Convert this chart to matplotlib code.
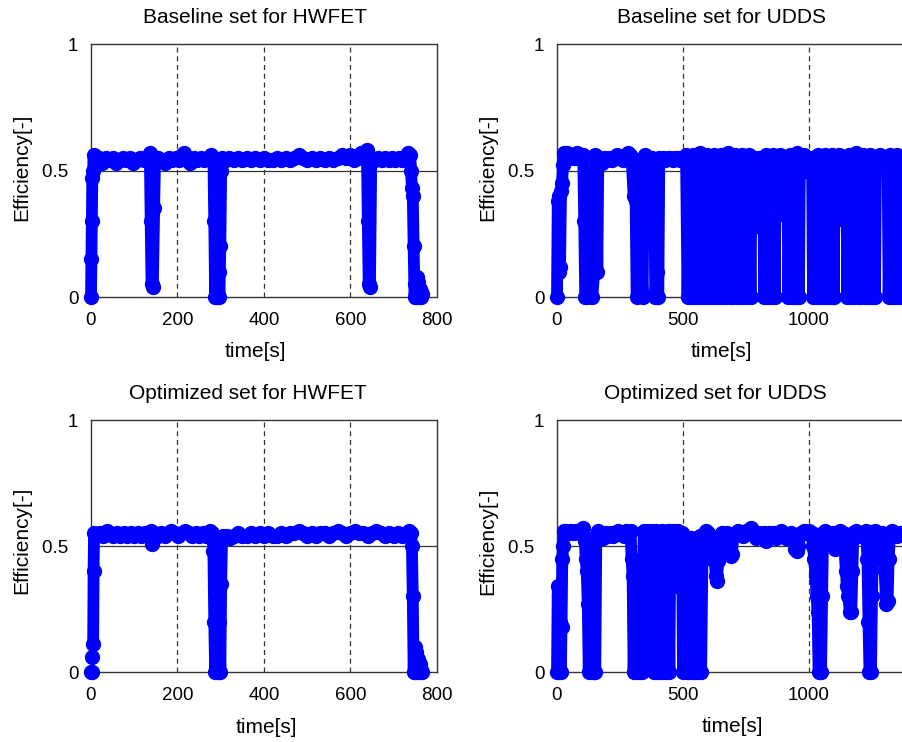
import numpy as np
import matplotlib.pyplot as plt

plt.rcParams['font.family'] = ['Liberation Sans', 'DejaVu Sans']

# HWFET, baseline set
hw_base_t = [0, 1, 2, 3, 5, 6, 10, 18, 26, 34, 42, 50, 58, 66, 74, 82, 90, 98, 106, 114,
             122, 130, 136, 138, 140, 143, 146, 148, 156, 164, 172, 180, 188, 196, 204, 210,
             216, 222, 230, 238, 246, 254, 262, 270, 278, 283, 285, 287, 289, 291, 293, 295,
             297, 299, 301, 303, 312, 320, 330, 340, 350, 360, 370, 380, 390, 400, 410, 420,
             430, 440, 450, 460, 470, 480, 490, 500, 510, 520, 530, 540, 550, 560, 570, 580,
             590, 600, 608, 616, 624, 630, 636, 638, 640, 642, 645, 648, 656, 664, 672, 680,
             688, 696, 704, 712, 720, 726, 732, 738, 740, 742, 744, 746, 748, 750, 752, 754,
             756, 758, 760, 762, 764, 766]
hw_base_eff = [0, 0.15, 0.3, 0.47, 0.5, 0.56, 0.54, 0.55, 0.53, 0.55, 0.54, 0.55, 0.53, 0.54,
               0.55, 0.54, 0.55, 0.53, 0.54, 0.55, 0.54, 0.55, 0.57, 0.3, 0.05, 0.04, 0.35,
               0.54, 0.55, 0.54, 0.53, 0.55, 0.54, 0.55, 0.54, 0.56, 0.57, 0.54, 0.53, 0.55,
               0.54, 0.55, 0.54, 0.55, 0.56, 0.55, 0.3, 0, 0.4, 0, 0.35, 0.1, 0, 0.2, 0.5,
               0.55, 0.54, 0.55, 0.54, 0.55, 0.54, 0.55, 0.54, 0.55, 0.54, 0.55, 0.54, 0.54,
               0.55, 0.54, 0.55, 0.54, 0.55, 0.56, 0.55, 0.54, 0.55, 0.54, 0.55, 0.54, 0.55,
               0.54, 0.55, 0.56, 0.55, 0.56, 0.54, 0.55, 0.57, 0.55, 0.56, 0.58, 0.3, 0.05,
               0.04, 0.55, 0.54, 0.55, 0.54, 0.55, 0.54, 0.55, 0.54, 0.55, 0.54, 0.55, 0.57,
               0.56, 0.5, 0.43, 0.4, 0.2, 0, 0.05, 0, 0.08, 0.06, 0, 0.03, 0, 0.02, 0.01]

# UDDS, baseline set
udds_base_t = [0, 3, 6, 9, 12, 16, 20, 24, 28, 32, 40, 50, 60, 70, 80, 90, 100, 104, 108, 112,
               120, 130, 140, 148, 152, 156, 160, 164, 170, 180, 190, 200, 210, 220,
               230, 240, 250, 260, 270, 280, 290, 296, 304, 312, 316, 324, 332, 340, 344,
               350, 360, 376, 386, 390, 396, 402, 406, 420, 430, 440, 450, 460, 470,
               480, 490, 500,
               512, 518, 525, 532, 539, 546, 553, 560, 567, 574, 581, 588, 595, 602, 609, 616,
               623, 630, 637, 644, 651, 658, 665, 672, 679, 686, 693, 700, 707, 714, 721, 728,
               735, 742, 749, 756, 763, 768,
               772, 778, 786, 794, 802, 810, 818, 822,
               829, 836, 843, 850, 857, 864,
               868, 876, 884, 892, 900, 908, 914, 918,
               925, 932, 939, 946, 953, 960,
               964, 972, 980, 988, 996, 1004, 1012, 1016,
               1023, 1030, 1037, 1044, 1051, 1058, 1065, 1072, 1079, 1086, 1093, 1098,
               1102, 1110, 1118, 1126, 1134, 1142, 1148, 1152,
               1159, 1166, 1173, 1180, 1187, 1194, 1201, 1208, 1215, 1222, 1229, 1236, 1243,
               1250, 1257, 1262,
               1266, 1274, 1282, 1290, 1298, 1306, 1312, 1316,
               1323, 1330, 1337, 1344, 1351, 1358, 1365, 1369]
udds_base_eff = [0, 0.38, 0.4, 0.1, 0.12, 0.42, 0.45, 0.52, 0.57, 0.56, 0.57, 0.55, 0.56, 0.55,
                 0.57, 0.55, 0.56, 0.56, 0.3, 0, 0, 0.02, 0, 0.1, 0.56, 0.55, 0.1, 0.55,
                 0.55, 0.53, 0.55, 0.54, 0.55, 0.54, 0.55, 0.56, 0.55, 0.54, 0.55, 0.57, 0.56,
                 0.55, 0.4, 0.38, 0, 0.1, 0.2, 0, 0.55,
                 0.56, 0.55, 0.55, 0.5, 0, 0.1, 0, 0.55, 0.55, 0.54, 0.55, 0.55, 0.54, 0.55,
                 0.55, 0.54, 0.55,
                 0.56, 0, 0.55, 0, 0.56, 0, 0.55, 0, 0.57, 0, 0.55, 0, 0.56, 0, 0.55, 0,
                 0.56, 0, 0.55, 0, 0.56, 0, 0.55, 0, 0.57, 0, 0.55, 0, 0.56, 0, 0.55, 0,
                 0.56, 0, 0.55, 0, 0.56, 0,
                 0.55, 0.28, 0.55, 0.28, 0.55, 0.28, 0.55, 0,
                 0.56, 0, 0.55, 0, 0.56, 0,
                 0.55, 0.33, 0.56, 0.33, 0.55, 0.33, 0.55, 0,
                 0.56, 0, 0.55, 0, 0.57, 0,
                 0.55, 0.5, 0.56, 0.5, 0.55, 0.5, 0.55, 0,
                 0.55, 0, 0.56, 0, 0.55, 0, 0.56, 0, 0.55, 0, 0.56, 0,
                 0.55, 0.31, 0.56, 0.31, 0.55, 0.31, 0.55, 0,
                 0.56, 0, 0.55, 0, 0.57, 0, 0.55, 0, 0.56, 0, 0.55, 0, 0.56,
                 0, 0.55, 0,
                 0.55, 0.52, 0.56, 0.52, 0.55, 0.52, 0.55, 0,
                 0.56, 0, 0.55, 0, 0.56, 0, 0.55, 0]

# HWFET, optimized set (first points are isolated dots)
hw_opt_t = [0, 3, np.nan, 3, np.nan, 5, 6, 7, 12, 20, 28, 36, 44, 52, 60, 68, 76, 84, 92, 100,
            108, 116, 124, 132, 138, 140, 142, 146, 154, 162, 170, 178, 186, 194, 202, 210,
            218, 226, 234, 242, 250, 258, 266, 274, 280, 283, 285, 287, 289, 291, 293, 295,
            297, 299, 301, 303, 306, 314, 322, 330, 340, 350, 360, 370, 380, 390, 400, 410,
            420, 430, 440, 450, 460, 470, 480, 490, 500, 510, 520, 530, 540, 550, 560, 570,
            580, 590, 600, 610, 620, 630, 640, 650, 660, 670, 680, 690, 700, 710, 720, 730,
            736, 740, 742, 744, 746, 748, 750, 752, 754, 756, 758, 760, 763, 766]
hw_opt_eff = [0, 0, np.nan, 0.06, np.nan, 0.11, 0.4, 0.55, 0.54, 0.55, 0.54, 0.56, 0.55, 0.54,
              0.55, 0.54, 0.55, 0.54, 0.55, 0.54, 0.55, 0.54, 0.55, 0.54, 0.56, 0.51, 0.52,
              0.55, 0.54, 0.55, 0.54, 0.55, 0.56, 0.55, 0.54, 0.55, 0.56, 0.55, 0.54, 0.55,
              0.54, 0.55, 0.54, 0.56, 0.55, 0.48, 0.2, 0, 0.3, 0, 0.4, 0, 0.2, 0, 0.35, 0.53,
              0.54, 0.54, 0.53, 0.54, 0.55, 0.54, 0.54, 0.55, 0.54, 0.55, 0.54, 0.55, 0.54,
              0.54, 0.55, 0.54, 0.55, 0.55, 0.56, 0.55, 0.54, 0.55, 0.54, 0.55, 0.55, 0.54,
              0.55, 0.56, 0.55, 0.54, 0.55, 0.56, 0.55, 0.55, 0.54, 0.55, 0.56, 0.55, 0.54,
              0.55, 0.54, 0.55, 0.54, 0.55, 0.56, 0.55, 0.5, 0.3, 0, 0.1, 0, 0.08, 0, 0.05,
              0, 0.03, 0.01, 0]

# UDDS, optimized set
udds_opt_t = [0, 3, 6, 9, 12, 15, 18, 21, 24, 28, 36, 46, 56, 66, 76, 86, 96, 104, 110, 114,
              118, 122, 126, 130, 134, 138, 142, 146, 152, 156, 164, 174, 184, 194, 204, 214,
              224, 234, 244, 254, 264, 274, 284, 292,
              296, 300, 304, 310, 316, 322, 328, 334, 338,
              344, 352, 360, 368, 376, 380, 386,
              392, 398, 404, 410, 416, 422, 428, 434, 440, 446,
              450, 458, 466, 474, 482, 490, 496, 500,
              506, 512, 518, 524, 530, 536, 542, 548, 554, 560, 566, 572,
              578, 586, 592, 600, 608, 616, 620,
              626, 630, 634, 640, 646, 656, 666, 676, 684, 690, 694, 700, 710, 720, 730, 740,
              750, 760, 770, 780, 790, 800, 810, 820, 830, 840, 850, 860, 870, 880, 890, 900,
              910, 920, 930, 940, 946, 952, 956, 962, 970, 980, 990, 1000, 1010, 1016, 1020,
              1026, 1030, 1034, 1038, 1044, 1048, 1052, 1056, 1064, 1074, 1084, 1094, 1100,
              1104, 1108, 1114, 1124, 1134, 1140, 1146, 1150, 1156, 1162, 1168, 1172, 1176,
              1186, 1196, 1206, 1216, 1226, 1232, 1236, 1240, 1246, 1250, 1254, 1262, 1272,
              1282, 1290, 1296, 1300, 1306, 1312, 1316, 1322, 1330, 1340, 1350, 1360, 1369]
udds_opt_eff = [0, 0.34, 0.3, 0, 0.2, 0, 0.18, 0.45, 0.5, 0.56, 0.56, 0.55, 0.56, 0.55, 0.56,
                0.55, 0.56, 0.57, 0.52, 0.45, 0.4, 0.27, 0, 0.3, 0.48, 0.2, 0, 0, 0, 0.54,
                0.56, 0.55, 0.53, 0.55, 0.54, 0.55, 0.54, 0.55, 0.56, 0.55, 0.54, 0.56, 0.55,
                0.56,
                0.45, 0.38, 0, 0.3, 0, 0.38, 0, 0.45, 0,
                0.56, 0.28, 0.56, 0.28, 0.56, 0.28, 0,
                0.56, 0, 0.55, 0, 0.56, 0, 0.55, 0, 0.56, 0,
                0.56, 0.34, 0.56, 0.34, 0.56, 0.34, 0.55, 0,
                0.53, 0, 0.52, 0, 0.53, 0, 0.52, 0, 0.53, 0, 0.54, 0,
                0.53, 0.55, 0.56, 0.55, 0.53, 0.45, 0.45,
                0.45, 0.38, 0.36, 0.44, 0.54, 0.55,
                0.54, 0.55, 0.5, 0.46, 0.47, 0.54, 0.55, 0.56, 0.55, 0.54, 0.56, 0.55, 0.57,
                0.55, 0.53, 0.55, 0.54, 0.55, 0.52, 0.55, 0.54, 0.55, 0.53, 0.54, 0.56, 0.55,
                0.53, 0.54, 0.55, 0.52, 0.49, 0.48, 0.5, 0.54, 0.55, 0.56, 0.55, 0.56, 0.55,
                0.5, 0.45, 0.38, 0.3, 0.24, 0, 0, 0, 0.3, 0.55, 0.56, 0.55, 0.54, 0.55, 0.52,
                0.49, 0.5, 0.55, 0.56, 0.55, 0.5, 0.4, 0.34, 0.3, 0.24, 0.24, 0.4, 0.55, 0.56,
                0.55, 0.54, 0.55, 0.56, 0.45, 0.2, 0, 0, 0.3, 0.55, 0.56, 0.55, 0.54, 0.55,
                0.5, 0.4, 0.27, 0.28, 0.45, 0.55, 0.56, 0.55, 0.54, 0.55, 0.55]

y_ticks = [0, 0.5, 1]
y_ticklabels = ['0', '0.5  ', '1']

panels = [
    # t, eff, axes rect, xmax, xticks, title, title x, xlabel pos, ylabel pos, title y
    (hw_base_t, hw_base_eff, [91 / 903, 0.5997, 346 / 903, 0.3410], 800,
     [0, 200, 400, 600, 800], 'Baseline set for HWFET', 0.798, (0.474, -0.217), (-0.199, 0.514), 1.103),
    (udds_base_t, udds_base_eff, [557 / 903, 0.5997, 378 / 903, 0.3410], 1500,
     [0, 500, 1000], 'Baseline set for UDDS', 0.712, (0.434, -0.217), (-0.183, 0.514), 1.103),
    (hw_opt_t, hw_opt_eff, [91 / 903, 0.0943, 346 / 903, 0.3396], 800,
     [0, 200, 400, 600, 800], 'Optimized set for HWFET', 0.798, (0.506, -0.222), (-0.199, 0.524), 1.107),
    (udds_opt_t, udds_opt_eff, [557 / 903, 0.0943, 378 / 903, 0.3396], 1500,
     [0, 500, 1000], 'Optimized set for UDDS', 0.714, (0.463, -0.218), (-0.183, 0.517), 1.107),
]

fig = plt.figure(figsize=(9.03, 7.42), dpi=100)

for t, eff, rect, xmax, xticks, title, tx, xl, yl, ty in panels:
    ax = fig.add_axes(rect)
    ax.set_xlim(0, xmax)
    ax.set_ylim(0, 1)
    ax.set_xticks(xticks)
    ax.set_yticks(y_ticks)
    ax.set_yticklabels(y_ticklabels)
    for x in xticks[1:]:
        if x < xmax:
            ax.axvline(x, color='#333333', ls=(0, (4, 3)), lw=0.9, zorder=1)
    ax.axhline(0.5, color='#333333', lw=0.9, zorder=1)

    ax.plot(t, eff, color='blue', lw=8.5, marker='o', ms=10, mec='blue', mfc='blue',
            solid_joinstyle='round', solid_capstyle='round', clip_on=False, zorder=3)

    ax.tick_params(length=0, labelsize=13.5)
    ax.tick_params(axis='x', pad=11)
    ax.tick_params(axis='y', pad=9)
    for s in ax.spines.values():
        s.set_color('#333333')
        s.set_linewidth(1.0)

    ax.set_xlabel('time[s]', fontsize=15)
    ax.xaxis.set_label_coords(*xl)
    ax.xaxis.label.set_va('center')
    ax.set_ylabel('Efficiency[-]', fontsize=15)
    ax.yaxis.set_label_coords(*yl)
    ax.yaxis.label.set_va('center')
    ax.text(tx, ty, title, transform=ax.transAxes, ha='right', va='center', fontsize=15)

fig.savefig('out.png', dpi=100)
